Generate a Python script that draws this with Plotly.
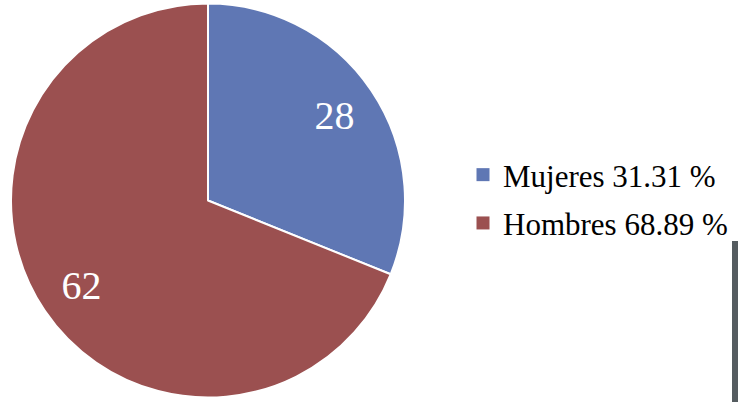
import plotly.graph_objects as go

categories = ["Mujeres 31.31 %", "Hombres 68.89 %"]
values = [28, 62]
colors = ["#5F77B4", "#9B5050"]

W, H = 738, 402
SERIF = "Times New Roman"
dom = dict(x=[11 / W, 405 / W], y=[1 - 398 / H, 1 - 3 / H])

fig = go.Figure()
fig.add_trace(go.Pie(
    labels=categories, values=values, sort=False,
    direction="clockwise", rotation=0,
    marker=dict(colors=colors, line=dict(color="white", width=2)),
    textinfo="none", hoverinfo="label+value",
    domain=dom, showlegend=False,
))
fig.add_trace(go.Pie(
    labels=categories, values=values, sort=False,
    direction="clockwise", rotation=0, hole=0.55,
    marker=dict(colors=["rgba(0,0,0,0)"] * len(values), line=dict(width=0)),
    textinfo="value", textposition="inside",
    insidetextorientation="horizontal",
    textfont=dict(family=SERIF, size=40, color="white"),
    hoverinfo="skip", showlegend=False,
    domain=dom,
))
# legend entries
for name, col in zip(categories, colors):
    fig.add_trace(go.Scatter(
        x=[None], y=[None], mode="markers", name=name,
        legendgroup=name,
        marker=dict(symbol="square", size=13, color=col),
    ))

fig.update_layout(
    width=W, height=H,
    margin=dict(l=0, r=0, t=0, b=0),
    paper_bgcolor="white",
    plot_bgcolor="white",
    font=dict(family=SERIF),
    xaxis=dict(visible=False),
    yaxis=dict(visible=False),
    showlegend=True,
    legend=dict(
        x=463 / W, y=1 - 148 / H, xanchor="left", yanchor="top",
        font=dict(family=SERIF, size=31, color="black"),
        bgcolor="rgba(0,0,0,0)",
        traceorder="grouped", tracegroupgap=5,
    ),
    shapes=[dict(type="rect", xref="paper", yref="paper",
                 x0=732 / W, x1=1, y0=0, y1=1 - 241 / H,
                 fillcolor="#555C60", line=dict(width=0))],
)

fig.write_html("out.html", config={"displayModeBar": False},
               post_script="document.body.style.margin='0';document.body.style.overflow='hidden';")
